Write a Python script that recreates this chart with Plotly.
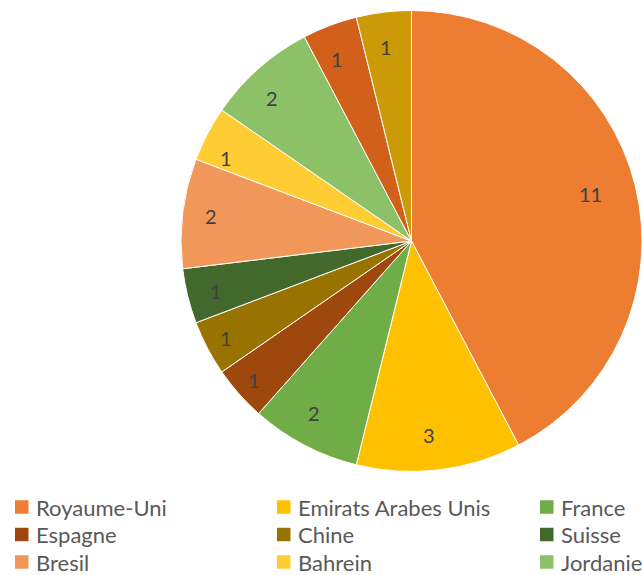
import math
import plotly.graph_objects as go

# ---- data ----
countries = ["Royaume-Uni", "Emirats Arabes Unis", "France", "Espagne", "Chine",
             "Suisse", "Bresil", "Bahrein", "Jordanie", "Autre 1", "Autre 2"]
counts = [11, 3, 2, 1, 1, 1, 2, 1, 2, 1, 1]
colors = ["#ED7D31", "#FFC000", "#70AD47", "#9E480E", "#997300", "#43682B",
          "#F1975A", "#FFCD33", "#8CC168", "#D2601A", "#CC9A06"]
legend_visible = 9  # only the first 3 legend rows are visible in the chart

W, H = 642, 575
cx, cy, r = 411.5, 241.0, 230.5

fig = go.Figure(go.Pie(
    labels=countries, values=counts, sort=False, direction="clockwise", rotation=0,
    marker=dict(colors=colors, line=dict(color="white", width=1)),
    textinfo="none", hoverinfo="label+value", showlegend=False,
    domain=dict(x=[(cx - r) / W, 1.0], y=[1 - (cy + r) / H, 1 - (cy - r) / H]),
))

annotations = []
shapes = []
total = sum(counts)
cum = 0
for v in counts:
    a = math.radians((cum + v / 2) / total * 360)
    cum += v
    f = 0.86 if v > 5 else 0.91
    px = cx + f * r * math.sin(a)
    py = cy - f * r * math.cos(a)
    annotations.append(dict(x=px / W, y=1 - py / H, xref="paper", yref="paper",
                            text=str(v), showarrow=False,
                            font=dict(family="Lato, Open Sans, sans-serif", size=20, color="#404040")))

col_sq = [15, 277, 540]
row_y = [507, 534.5, 562]
sq = 13.5
for i in range(legend_visible):
    c, rw = i % 3, i // 3
    x0 = col_sq[c]
    y0 = row_y[rw]
    shapes.append(dict(type="rect", xref="paper", yref="paper",
                       x0=x0 / W, x1=(x0 + sq) / W,
                       y0=1 - (y0 + sq / 2) / H, y1=1 - (y0 - sq / 2) / H,
                       fillcolor=colors[i], line=dict(width=0)))
    annotations.append(dict(x=(x0 + 19) / W, y=1 - y0 / H, xref="paper", yref="paper",
                            xanchor="left", yanchor="middle", text=countries[i], showarrow=False,
                            font=dict(family="Lato, Open Sans, sans-serif", size=22, color="#595959")))

fig.update_layout(width=W, height=H, margin=dict(l=0, r=0, t=0, b=0),
                  paper_bgcolor="white", plot_bgcolor="white",
                  annotations=annotations, shapes=shapes)
fig.write_html("out.html", config={"displayModeBar": False},
               post_script="document.body.style.margin='0px';")
